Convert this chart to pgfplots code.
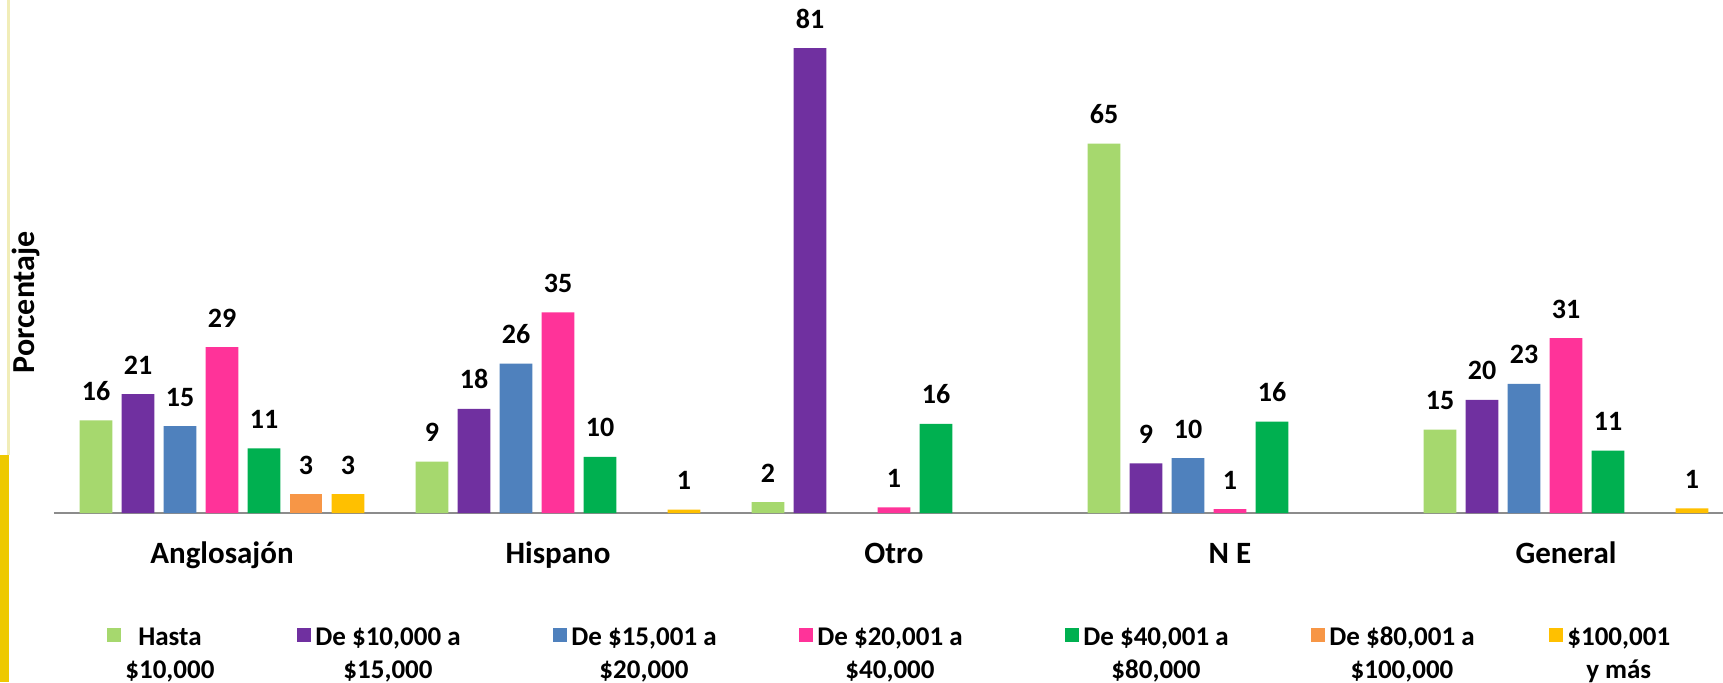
\documentclass[border=0pt]{standalone}
\usepackage{fontspec}
\setmainfont{Carlito}
\usepackage{pgfplots}
\pgfplotsset{compat=1.18}
\definecolor{cA}{HTML}{A6D86E}
\definecolor{cB}{HTML}{7030A0}
\definecolor{cC}{HTML}{4F81BD}
\definecolor{cD}{HTML}{FF3399}
\definecolor{cE}{HTML}{00B050}
\definecolor{cF}{HTML}{F79646}
\definecolor{cG}{HTML}{FFC000}
\definecolor{axisgray}{HTML}{8C8C8C}
\definecolor{stripY}{HTML}{EEC900}
\definecolor{stripP}{HTML}{F1EDB8}
\newcommand\legtwo[3]{\makebox[#1][l]{\begin{tabular}[t]{@{}c@{}}#2\\#3\end{tabular}}}
\begin{document}
\begin{tikzpicture}
\fill[white] (0,0) rectangle (861.5pt,341pt);
\fill[stripP] (3.6pt,113.5pt) rectangle (4.8pt,341pt);
\fill[stripY] (0,0) rectangle (4.6pt,113.5pt);
\begin{axis}[
  at={(27pt,84.5pt)}, anchor=south west,
  scale only axis, width=840pt, height=256.5pt,
  xmin=-0.5, xmax=4.5, ymin=0, ymax=89.7,
  axis x line*=bottom, axis y line*=left,
  x axis line style={draw=axisgray, line width=0.8pt},
  y axis line style={draw=none},
  ytick=\empty,
  xtick={0,1,2,3,4},
  xticklabels={Anglosajón,Hispano,Otro,N E,General},
  major tick length=0pt,
  xticklabel style={font=\fontsize{15.5}{18}\selectfont\bfseries, anchor=base, yshift=-25pt},
  ylabel={Porcentaje},
  ylabel style={at={(axis description cs:-0.0167,0.411)}, anchor=center, font=\fontsize{16}{18}\selectfont\bfseries},
  ybar, bar width=0.098,
  /pgf/number format/assume math mode=true,
  nodes near coords={\pgfmathprintnumber[fixed,precision=0]{\pgfplotspointmeta}},
  every node near coord/.append style={font=\fontsize{14}{17}\selectfont\bfseries, anchor=base, yshift=10pt, text=black},
  clip=false,
  legend columns=7,
  legend style={at={(axis description cs:0,0)}, anchor=north west, xshift=26.5pt, yshift=-54.45pt,
    draw=none, fill=none, inner sep=0pt, font=\fontsize{13.5}{16.5}\selectfont\bfseries,
    nodes={inner sep=0pt},
    /tikz/every odd column/.append style={column sep=2pt},
    /tikz/every even column/.append style={column sep=0pt}},
  legend image code/.code={\fill[#1] (0pt,-3.5pt) rectangle (7pt,3.5pt);},
]
\addplot[fill=cA, draw=none, bar shift=-0.375] coordinates {(0,16.2) (1,9.0) (2,1.9) (3,64.6) (4,14.6)};
\addplot[fill=cB, draw=none, bar shift=-0.25] coordinates {(0,20.8) (1,18.2) (2,81.3) (3,8.7) (4,19.8)};
\addplot[fill=cC, draw=none, bar shift=-0.125] coordinates {(0,15.2) (1,26.1) (3,9.6) (4,22.6)};
\addplot[fill=cD, draw=none, bar shift=0] coordinates {(0,29.0) (1,35.1) (2,1.0) (3,0.7) (4,30.6)};
\addplot[fill=cE, draw=none, bar shift=0.125] coordinates {(0,11.3) (1,9.8) (2,15.6) (3,16.0) (4,10.9)};
\addplot[fill=cF, draw=none, bar shift=0.25] coordinates {(0,3.3)};
\addplot[fill=cG, draw=none, bar shift=0.375] coordinates {(0,3.3) (1,0.6) (4,0.8)};
\addlegendentry{\legtwo{86pt}{Hasta}{\$10,000}}
\addlegendentry{\legtwo{119pt}{De \$10,000 a}{\$15,000}}
\addlegendentry{\legtwo{114pt}{De \$15,001 a}{\$20,000}}
\addlegendentry{\legtwo{124pt}{De \$20,001 a}{\$40,000}}
\addlegendentry{\legtwo{114pt}{De \$40,001 a}{\$80,000}}
\addlegendentry{\legtwo{110pt}{De \$80,001 a}{\$100,000}}
\addlegendentry{\legtwo{60pt}{\$100,001}{y más}}
\end{axis}
\pgfresetboundingbox
\path[use as bounding box] (0,0) rectangle (861.5pt,341pt);
\end{tikzpicture}
\end{document}
